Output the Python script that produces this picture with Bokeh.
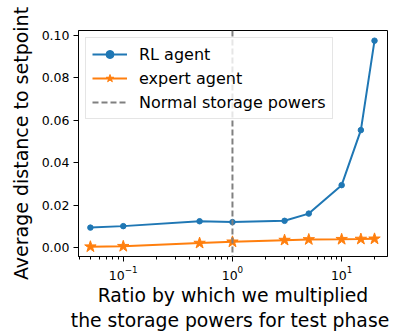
from bokeh.plotting import figure
from bokeh.models import Span, Legend, LegendItem, LogTicker, PrintfTickFormatter
from bokeh.embed import file_html
from bokeh.resources import INLINE

ratios = [0.05, 0.1, 0.5, 1, 3, 5, 10, 15, 20]
rl_agent = [0.0095, 0.0102, 0.0125, 0.0121, 0.0127, 0.0161, 0.0295, 0.0554, 0.0975]
expert_agent = [0.0005, 0.0007, 0.0022, 0.0028, 0.0036, 0.0039, 0.0040, 0.0041, 0.0042]
normal_ratio = 1
y_ticks = [0.00, 0.02, 0.04, 0.06, 0.08, 0.10]

BLUE = "#1f77b4"
ORANGE = "#ff7f0e"
FONT = "DejaVu Sans"

p = figure(width=401, height=333, x_axis_type="log",
           x_range=(0.0389, 26.3), y_range=(-0.0041, 0.1023),
           output_backend="svg", toolbar_location=None,
           min_border_left=78, min_border_right=14, min_border_top=30, min_border_bottom=73)
p.background_fill_color = "white"
p.border_fill_color = "white"
p.outline_line_color = "black"
p.outline_line_width = 1
p.grid.visible = False

p.yaxis.ticker = y_ticks
p.yaxis.formatter = PrintfTickFormatter(format="%.2f")

for ax in (p.xaxis[0], p.yaxis[0]):
    ax.axis_line_color = "black"
    ax.major_tick_line_color = "black"
    ax.major_tick_out = 5
    ax.major_tick_in = 0
    ax.major_label_text_font = FONT
    ax.major_label_text_font_size = "12.5px"
    ax.major_label_text_color = "black"
    ax.major_label_standoff = 4
    ax.axis_label_text_font = FONT
    ax.axis_label_text_font_style = "normal"
    ax.axis_label_text_color = "black"
p.yaxis.axis_label_text_font_size = "19px"
p.xaxis.axis_label_text_font_size = "18.8px"
p.yaxis.minor_tick_line_color = None
p.xaxis.minor_tick_line_color = "black"
p.xaxis.minor_tick_out = 3
p.xaxis.minor_tick_in = 0
p.xaxis.ticker = LogTicker(desired_num_ticks=3, num_minor_ticks=10)

p.yaxis.axis_label = "Average distance to setpoint"
p.yaxis.axis_label_standoff = 7
p.xaxis.axis_label = "Ratio by which we multiplied\n the storage powers for test phase"
p.xaxis.axis_label_standoff = 2

vline = Span(location=normal_ratio, dimension="height", line_color="#808080",
             line_width=2, line_dash="6 3")
p.add_layout(vline)

l1 = p.line(ratios, rl_agent, line_color=BLUE, line_width=2)
m1 = p.scatter(ratios, rl_agent, marker="circle", size=5.5, fill_color=BLUE, line_color=BLUE)
l2 = p.line(ratios, expert_agent, line_color=ORANGE, line_width=2)
m2 = p.scatter(ratios, expert_agent, marker="star", size=12, fill_color=ORANGE, line_color=ORANGE)
l3 = p.line([normal_ratio, normal_ratio], [0.2, 0.3], line_color="#808080", line_width=2, line_dash="6 3")

legend = Legend(items=[
    LegendItem(label="RL agent", renderers=[l1, m1]),
    LegendItem(label="expert agent", renderers=[l2, m2]),
    LegendItem(label="Normal storage powers", renderers=[l3]),
], location="top_left")
legend.label_text_font = FONT
legend.label_text_font_size = "16px"
legend.label_text_color = "black"
legend.glyph_width = 35
legend.glyph_height = 20
legend.label_height = 20
legend.spacing = 4
legend.padding = 6
legend.margin = 7
legend.label_standoff = 12
legend.border_line_color = "#cccccc"
legend.border_line_width = 1
legend.background_fill_alpha = 0.8
p.add_layout(legend)

open("out.html", "w").write(file_html(p, INLINE))
